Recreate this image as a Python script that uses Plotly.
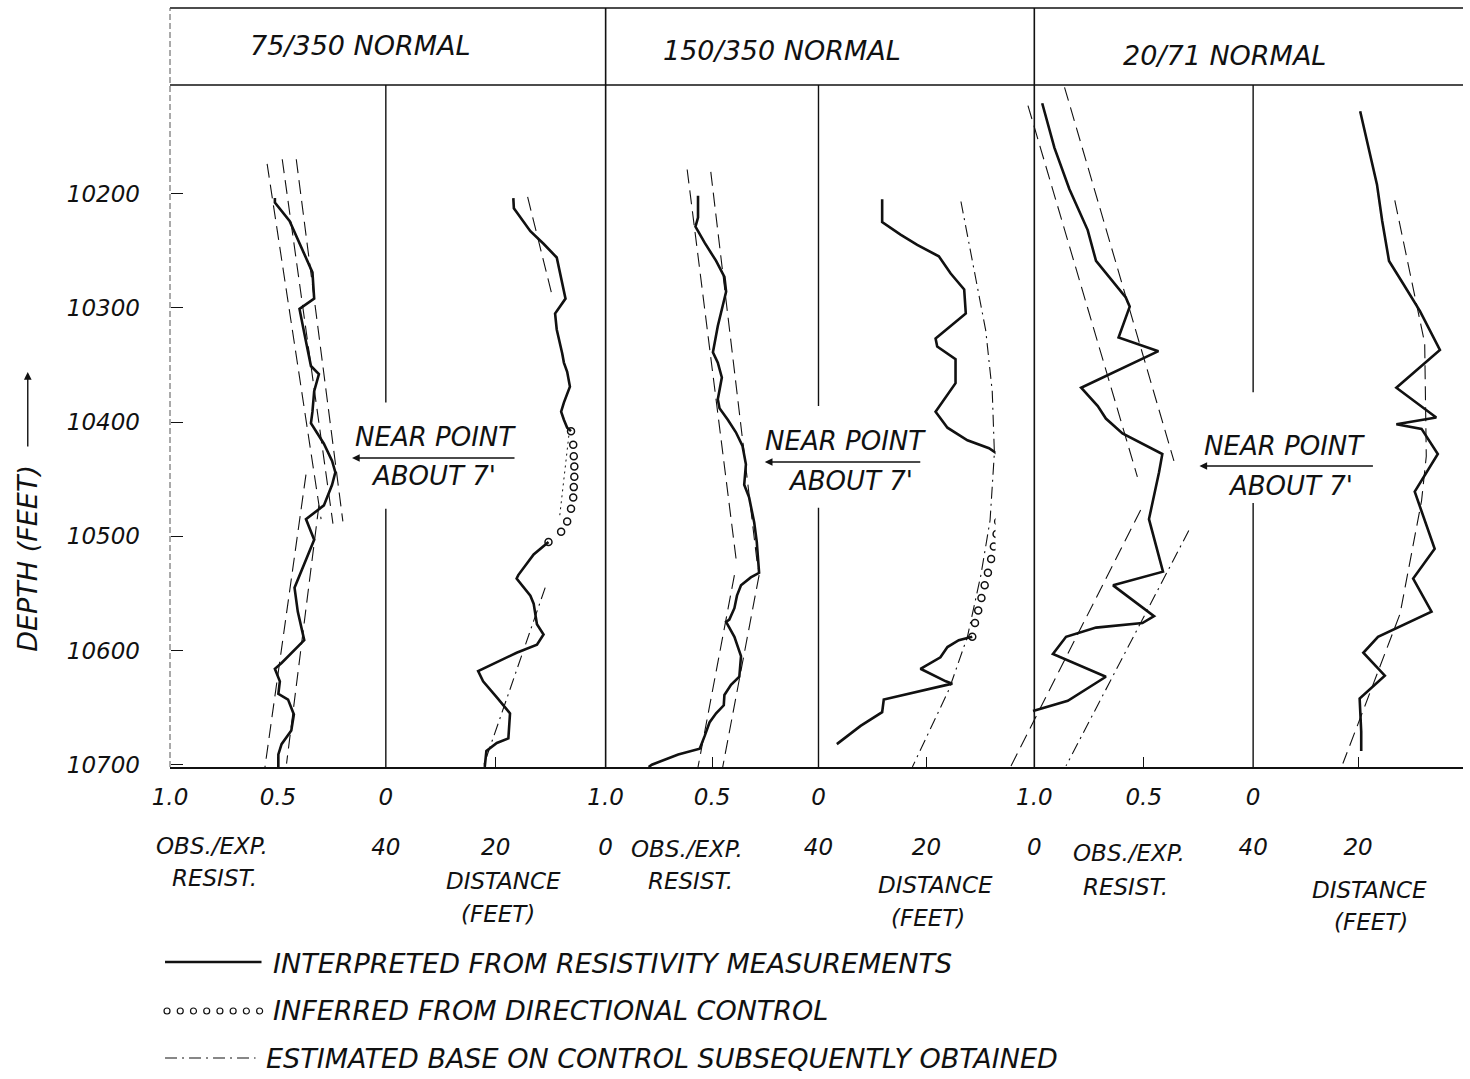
import plotly.graph_objects as go

# ---------------- data ----------------
depth_ticks = [10200, 10300, 10400, 10500, 10600, 10700]
depth_ticklabels = ["10200", "10300", "10400", "10500", "10600", "10700"]
resist_ticks = [1.0, 0.5, 0.0]
resist_ticklabels = ["1.0", "0.5", "0"]
dist_ticks = [40, 20, 0]
dist_ticklabels = ["40", "20", "0"]
panel_titles = ["75/350 NORMAL", "150/350 NORMAL", "20/71 NORMAL"]
legend_texts = ["INTERPRETED FROM RESISTIVITY MEASUREMENTS",
                "INFERRED FROM DIRECTIONAL CONTROL",
                "ESTIMATED BASE ON CONTROL SUBSEQUENTLY OBTAINED"]

# Panel 1 (75/350 normal)
p1_res_depth = [10204, 10208, 10224, 10269, 10292, 10301, 10322, 10351, 10358, 10373, 10391, 10401,
                10419, 10434, 10444, 10455, 10473, 10485, 10503, 10545, 10566, 10591, 10611, 10616,
                10627, 10638, 10643, 10656, 10670, 10682, 10691, 10702]
p1_res_val = [0.514, 0.514, 0.446, 0.340, 0.332, 0.400, 0.378, 0.347, 0.310, 0.332, 0.340, 0.347,
              0.287, 0.249, 0.234, 0.249, 0.287, 0.370, 0.332, 0.423, 0.408, 0.378, 0.483, 0.514,
              0.491, 0.498, 0.453, 0.426, 0.438, 0.483, 0.498, 0.498]
p1_est_res_depth = [10174, 10485, None, 10170, 10489, None, 10170, 10487, None,
                    10446, 10702, None, 10473, 10699]
p1_est_res_val = [0.55, 0.30, None, 0.48, 0.245, None, 0.415, 0.199, None,
                  0.37, 0.56, None, 0.31, 0.46]
p1_dist_a_depth = [10204, 10213, 10233, 10244, 10256, 10283, 10292, 10305, 10319, 10340, 10348,
                   10356, 10369, 10383, 10391, 10398, 10405, 10408]
p1_dist_a_val = [16.8, 16.7, 13.7, 11.3, 8.9, 7.6, 7.3, 9.2, 8.9, 7.9, 7.6, 7.0, 6.5, 7.6, 8.1,
                 7.6, 7.0, 6.3]
p1_circ_depth = [10408, 10420, 10430, 10439, 10448, 10457, 10466, 10476, 10487, 10496, 10505]
p1_circ_val = [6.3, 5.9, 5.8, 5.7, 5.7, 5.8, 5.9, 6.3, 7.0, 8.1, 10.4]
p1_dist_b_depth = [10505, 10516, 10534, 10537, 10552, 10559, 10577, 10586, 10595, 10602, 10618,
                   10627, 10641, 10655, 10677, 10681, 10688, 10702]
p1_dist_b_val = [10.4, 13.1, 15.9, 16.2, 13.7, 13.1, 12.5, 11.3, 12.5, 16.2, 23.2, 22.3, 19.8,
                 17.4, 17.7, 19.8, 21.7, 22.0]
p1_est_dist_top_depth = [10203, 10288]
p1_est_dist_top_val = [14.2, 9.8]
p1_est_dist_mid_depth = [10412, 10448, 10484]
p1_est_dist_mid_val = [6.7, 7.6, 8.4]
p1_est_dist_bot_depth = [10545, 10702]
p1_est_dist_bot_val = [11.0, 22.3]

# Panel 2 (150/350 normal)
p2_res_depth = [10202, 10221, 10229, 10243, 10259, 10273, 10286, 10298, 10316, 10339, 10348, 10361,
                10380, 10388, 10398, 10409, 10421, 10437, 10455, 10466, 10488, 10505, 10532, 10536,
                10543, 10552, 10563, 10573, 10575, 10588, 10605, 10623, 10630, 10639, 10648, 10655,
                10663, 10675, 10686, 10691, 10700, 10702]
p2_res_val = [0.566, 0.566, 0.578, 0.535, 0.481, 0.442, 0.434, 0.450, 0.473, 0.496, 0.473, 0.454,
              0.473, 0.465, 0.426, 0.388, 0.357, 0.341, 0.349, 0.326, 0.302, 0.290, 0.279, 0.318,
              0.364, 0.383, 0.395, 0.419, 0.434, 0.395, 0.364, 0.372, 0.411, 0.442, 0.445, 0.481,
              0.512, 0.535, 0.558, 0.659, 0.783, 0.798]
p2_est_res_depth = [10179, 10523, None, 10181, 10528, None, 10534, 10702, None, 10534, 10702]
p2_est_res_val = [0.617, 0.385, None, 0.506, 0.285, None, 0.395, 0.566, None, 0.279, 0.450]
p2_dist_a_depth = [10205, 10225, 10236, 10245, 10255, 10270, 10284, 10305, 10316, 10327, 10334,
                   10345, 10366, 10380, 10391, 10405, 10416, 10423, 10429]
p2_dist_a_val = [28.2, 28.2, 24.8, 21.7, 17.7, 15.5, 13.0, 12.7, 15.5, 18.3, 18.0, 14.6, 14.6,
                 16.7, 18.3, 16.1, 12.4, 8.4, 6.5]
p2_circ_depth = [10432, 10443, 10454, 10465, 10476, 10487, 10498, 10509, 10520, 10532, 10543,
                 10554, 10565, 10576, 10588]
p2_circ_val = [5.9, 5.8, 5.9, 6.1, 6.3, 6.7, 7.0, 7.5, 8.0, 8.6, 9.2, 9.8, 10.4, 11.0, 11.5]
p2_dist_b_depth = [10588, 10591, 10597, 10606, 10616, 10627, 10629, 10643, 10654, 10666, 10682]
p2_dist_b_val = [11.5, 14.0, 16.1, 17.4, 21.1, 16.4, 15.2, 27.9, 28.2, 32.2, 36.6]
p2_est_dist_depth = [10207, 10266, 10320, 10373, 10427, 10486, 10534, 10588, 10634, 10702]
p2_est_dist_val = [13.6, 11.2, 9.0, 7.8, 7.4, 8.2, 9.9, 12.4, 15.8, 22.6]

# Panel 3 (20/71 normal)
p3_res_depth = [10121, 10160, 10196, 10232, 10259, 10273, 10291, 10299, 10326, 10338, 10370, 10386,
                10397, 10410, 10428, 10444, 10485, 10531, 10543, 10570, 10576, 10580, 10588, 10603,
                10623, 10644, 10653]
p3_res_val = [0.964, 0.908, 0.840, 0.756, 0.718, 0.658, 0.582, 0.564, 0.615, 0.433, 0.786, 0.710,
              0.673, 0.597, 0.415, 0.430, 0.476, 0.412, 0.640, 0.453, 0.506, 0.718, 0.855, 0.915,
              0.673, 0.847, 1.006]
p3_est_res_dash_depth = [10107, 10434, None, 10123, 10448, None, 10477, 10710]
p3_est_res_dash_val = [0.862, 0.362, None, 1.029, 0.529, None, 0.514, 1.13]
p3_est_res_dd_depth = [10495, 10701]
p3_est_res_dd_val = [0.294, 0.855]
p3_dist_depth = [10128, 10176, 10192, 10224, 10259, 10279, 10303, 10337, 10370, 10396, 10402, 10406,
                 10428, 10461, 10511, 10537, 10566, 10588, 10602, 10622, 10632, 10642, 10671, 10688]
p3_dist_val = [19.6, 17.1, 16.4, 15.4, 14.1, 11.4, 8.2, 4.4, 12.7, 5.1, 12.7, 7.9, 4.8, 9.2, 5.4,
               9.5, 6.0, 16.2, 19.0, 14.9, 17.4, 19.7, 19.4, 19.4]
p3_est_dist_depth = [10206, 10331, 10430, 10469, 10568, 10699]
p3_est_dist_val = [13.0, 7.3, 7.0, 7.9, 12.0, 22.9]

# Gaps in the centre divider lines (where the NEAR POINT note sits)
center_gaps = [(10383, 10476), (10386, 10475), (10374, 10471)]

# ---------------- layout geometry ----------------
W, H = 1470, 1079
L, R, T, B = 170, 1470, 85, 767
PW, PH = R - L, B - T
Y_TOP, Y_BOT = 10105, 10702


def px(x):
    return (x - L) / PW


def py(y):
    return (B - y) / PH


FONT = "DejaVu Sans"
BLACK = "#111111"
SOLID_W = 2.6
EST_W = 1.1
DASH = "14px,7px"
DASHDOT = "12px,5px,2px,5px"

fig = go.Figure()


def line(xa, xs, ys, width=SOLID_W, dash="solid"):
    fig.add_trace(go.Scatter(x=xs, y=ys, xaxis=xa, yaxis="y", mode="lines",
                             line=dict(color=BLACK, width=width, dash=dash),
                             connectgaps=False, showlegend=False, hoverinfo="skip"))


def circles(xa, xs, ys):
    fig.add_trace(go.Scatter(x=xs, y=ys, xaxis=xa, yaxis="y", mode="markers",
                             marker=dict(symbol="circle-open", size=7, color=BLACK,
                                         line=dict(width=1.5, color=BLACK)),
                             showlegend=False, hoverinfo="skip"))


# Panel 1
line("x", p1_est_res_val, p1_est_res_depth, EST_W, DASH)
line("x", p1_res_val, p1_res_depth)
line("x2", p1_est_dist_top_val, p1_est_dist_top_depth, EST_W, DASH)
line("x2", p1_est_dist_mid_val, p1_est_dist_mid_depth, 1.0, "2px,4px")
line("x2", p1_est_dist_bot_val, p1_est_dist_bot_depth, EST_W, DASHDOT)
line("x2", p1_dist_a_val, p1_dist_a_depth)
circles("x2", p1_circ_val, p1_circ_depth)
line("x2", p1_dist_b_val, p1_dist_b_depth)

# Panel 2
line("x3", p2_est_res_val, p2_est_res_depth, EST_W, DASH)
line("x3", p2_res_val, p2_res_depth)
line("x4", p2_est_dist_val, p2_est_dist_depth, EST_W, DASHDOT)
line("x4", p2_dist_a_val, p2_dist_a_depth)
circles("x4", p2_circ_val, p2_circ_depth)
line("x4", p2_dist_b_val, p2_dist_b_depth)

# Panel 3
line("x5", p3_est_res_dash_val, p3_est_res_dash_depth, EST_W, DASH)
line("x5", p3_est_res_dd_val, p3_est_res_dd_depth, EST_W, DASHDOT)
line("x5", p3_res_val, p3_res_depth)
line("x6", p3_est_dist_val, p3_est_dist_depth, EST_W, DASH)
line("x6", p3_dist_val, p3_dist_depth)

# ---------------- axes ----------------
tick_font = dict(family=FONT, size=23, color=BLACK, style="italic")
yr = [Y_BOT, Y_TOP]

res_dom = [(px(170), px(387)), (px(608), px(822)), (px(1000), px(1259))]
res_rng = [[1.0, 0.0], [1.0, 0.0], [1.0 + 39 / 220, 0.0]]
dist_dom = [(px(387), px(608)), (px(822), px(1039)), (px(1259), 1.0)]

axes = {}
for i in range(3):
    ra = "xaxis" if i == 0 else f"xaxis{2 * i + 1}"
    da = f"xaxis{2 * i + 2}"
    axes[ra] = dict(domain=list(res_dom[i]), range=res_rng[i], anchor="y",
                    tickvals=resist_ticks, ticktext=resist_ticklabels,
                    ticks="inside", ticklen=10, tickcolor=BLACK, tickwidth=1.2,
                    ticklabelstandoff=8, tickfont=tick_font,
                    showgrid=False, zeroline=False, showline=True, linecolor=BLACK, linewidth=2)
    axes[da] = dict(domain=list(dist_dom[i]), range=[40, 0], anchor="y",
                    tickvals=dist_ticks, ticktext=dist_ticklabels,
                    ticks="inside", ticklen=10, tickcolor=BLACK, tickwidth=1.2,
                    ticklabelstandoff=58, tickfont=tick_font,
                    showgrid=False, zeroline=False, showline=True, linecolor=BLACK, linewidth=2)

fig.update_layout(**axes)
fig.update_layout(
    yaxis=dict(range=yr, autorange=False, anchor="free", position=0,
               tickvals=depth_ticks, ticktext=depth_ticklabels, ticks="inside", ticklen=12,
               tickcolor=BLACK, tickwidth=1.2, ticklabelstandoff=30, tickfont=tick_font,
               showgrid=False, zeroline=False, showline=False),
    yaxis2=dict(range=yr, autorange=False, overlaying="y", anchor="free", position=px(608),
                side="left", tickvals=depth_ticks[:-1], ticks="inside", ticklen=12,
                tickcolor=BLACK, tickwidth=1.2, showticklabels=False,
                showgrid=False, zeroline=False, showline=False),
    yaxis3=dict(range=yr, autorange=False, overlaying="y", anchor="free", position=px(1039),
                side="left", tickvals=depth_ticks[:-1], ticks="inside", ticklen=12,
                tickcolor=BLACK, tickwidth=1.2, showticklabels=False,
                showgrid=False, zeroline=False, showline=False),
)

# ---------------- frame / header shapes ----------------
shapes = []
for yy in (8, 85):
    shapes.append(dict(type="line", xref="paper", yref="paper", x0=0, x1=1, y0=py(yy), y1=py(yy),
                       line=dict(color=BLACK, width=1.6)))
for xx in (608, 1039):
    shapes.append(dict(type="line", xref="paper", yref="paper", x0=px(xx), x1=px(xx),
                       y0=0, y1=py(8), line=dict(color=BLACK, width=1.6)))
shapes.append(dict(type="line", xref="paper", yref="paper", x0=0, x1=0, y0=0, y1=py(8),
                   line=dict(color="#555555", width=1, dash="6px,3px")))
for i, (g0, g1) in enumerate(center_gaps):
    xa = f"x{2 * i + 2} domain"
    shapes.append(dict(type="line", xref=xa, yref="y", x0=0, x1=0, y0=Y_TOP, y1=g0,
                       line=dict(color=BLACK, width=1.4)))
    shapes.append(dict(type="line", xref=xa, yref="y", x0=0, x1=0, y0=g1, y1=Y_BOT,
                       line=dict(color=BLACK, width=1.4)))

# legend keys
shapes.append(dict(type="line", xref="paper", yref="paper", x0=px(165), x1=px(262),
                   y0=py(962), y1=py(962), line=dict(color=BLACK, width=2.4)))
for k in range(8):
    cx = 167 + k * 13.3
    shapes.append(dict(type="circle", xref="paper", yref="paper",
                       xsizemode="pixel", ysizemode="pixel", xanchor=px(cx), yanchor=py(1011),
                       x0=-3.0, x1=3.0, y0=-3.0, y1=3.0, line=dict(color=BLACK, width=1.2)))
shapes.append(dict(type="line", xref="paper", yref="paper", x0=px(165), x1=px(256),
                   y0=py(1058), y1=py(1058), line=dict(color=BLACK, width=1.1, dash=DASHDOT)))

# ---------------- text ----------------
ann = []


def text(t, x, y, size=23, xanchor="center", angle=0):
    ann.append(dict(text=t, xref="paper", yref="paper", x=px(x), y=py(y), showarrow=False,
                    xanchor=xanchor, yanchor="middle", textangle=angle,
                    font=dict(family=FONT, size=size, color=BLACK, style="italic")))


def arrow(x_head, y_head, dx, dy):
    ann.append(dict(text="", xref="paper", yref="paper", x=px(x_head), y=py(y_head),
                    ax=dx, ay=dy, axref="pixel", ayref="pixel", showarrow=True,
                    arrowhead=2, arrowsize=1.1, arrowwidth=1.4, arrowcolor=BLACK, standoff=0))


title_pos = [(362, 45), (785, 50), (1230, 55)]
for t, (x, y) in zip(panel_titles, title_pos):
    text(t, x, y, size=27)

caps = [
    ("OBS./EXP.", 212, 846), ("RESIST.", 215, 878), ("DISTANCE", 505, 881), ("(FEET)", 500, 914),
    ("OBS./EXP.", 690, 849), ("RESIST.", 693, 881), ("DISTANCE", 940, 885), ("(FEET)", 932, 918),
    ("OBS./EXP.", 1134, 853), ("RESIST.", 1131, 887), ("DISTANCE", 1376, 890), ("(FEET)", 1378, 922),
]
for t, x, y in caps:
    text(t, x, y, size=23)

notes = [((437, 437), (435, 476), (353, 458, 164)),
         ((849, 441), (854, 481), (768, 462, 157)),
         ((1291, 446), (1297, 486), (1205, 466, 175))]
for (n1, n2, (hx, hy, ln)) in notes:
    text("NEAR POINT", n1[0], n1[1], size=26)
    text("ABOUT 7'", n2[0], n2[1], size=26)
    arrow(hx, hy, ln, 0)

text("DEPTH (FEET)", 26, 558, size=27, angle=-90)
arrow(27, 372, 0, 76)

text(legend_texts[0], 272, 963, size=27, xanchor="left")
text(legend_texts[1], 272, 1010, size=27, xanchor="left")
text(legend_texts[2], 265, 1058, size=27, xanchor="left")

fig.update_layout(
    width=W, height=H, autosize=False,
    margin=dict(l=L, r=W - R, t=T, b=H - B, pad=0),
    paper_bgcolor="white", plot_bgcolor="white",
    shapes=shapes, annotations=ann, showlegend=False,
    font=dict(family=FONT, color=BLACK),
)

fig.write_html("out.html", config={"displayModeBar": False},
               post_script="document.body.style.margin='0';"
                           "document.body.style.overflow='hidden';"
                           "document.documentElement.style.overflow='hidden';")
